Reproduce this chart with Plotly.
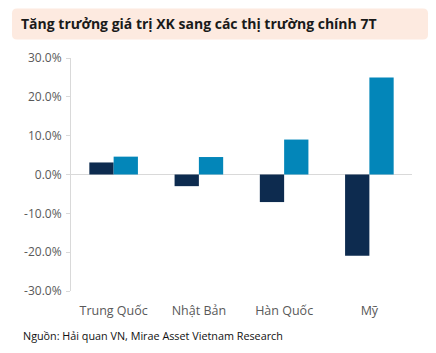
import plotly.graph_objects as go

categories = ["Trung Quốc", "Nhật Bản", "Hàn Quốc", "Mỹ"]
series_a = [3.1, -3.0, -7.1, -20.9]
series_b = [4.6, 4.5, 9.0, 25.0]
tick_vals = [-30, -20, -10, 0, 10, 20, 30]
tick_text = ["-30.0%", "-20.0%", "-10.0%", "0.0%", "10.0%", "20.0%", "30.0%"]
title_text = "Tăng trưởng giá trị XK sang các thị trường chính 7T"
source_text = "Nguồn: Hải quan VN, Mirae Asset Vietnam Research"

W, H = 436, 353
L, R, T, B = 71, 24, 58, 62
pw, ph = W - L - R, H - T - B

def px(x):
    return (x - L) / pw

def py(y):
    return (H - B - y) / ph

fig = go.Figure()
fig.add_trace(go.Bar(x=categories, y=series_a, marker_color="#0d2b4f", marker_line_width=0))
fig.add_trace(go.Bar(x=categories, y=series_b, marker_color="#0386b9", marker_line_width=0))

# rounded title box
x0, x1, y0, y1, r = 12, 428, 8.5, 39.5, 5
path = (f"M {px(x0+r)} {py(y0)} L {px(x1-r)} {py(y0)} Q {px(x1)} {py(y0)} {px(x1)} {py(y0+r)} "
        f"L {px(x1)} {py(y1-r)} Q {px(x1)} {py(y1)} {px(x1-r)} {py(y1)} "
        f"L {px(x0+r)} {py(y1)} Q {px(x0)} {py(y1)} {px(x0)} {py(y1-r)} "
        f"L {px(x0)} {py(y0+r)} Q {px(x0)} {py(y0)} {px(x0+r)} {py(y0)} Z")
fig.add_shape(type="path", path=path, xref="paper", yref="paper",
              fillcolor="#fdeae0", line_width=0, layer="below")

fig.add_annotation(text="<b>" + title_text + "</b>", xref="paper", yref="paper",
                   x=px(19), y=py(24), xanchor="left", yanchor="middle", showarrow=False,
                   font=dict(family="Open Sans", size=14, color="#1a1a1a"))
fig.add_annotation(text=source_text, xref="paper", yref="paper",
                   x=px(21), y=py(335), xanchor="left", yanchor="middle", showarrow=False,
                   font=dict(family="Open Sans", size=10.8, color="#111111"))

fig.update_layout(
    width=W, height=H, margin=dict(l=L, r=R, t=T, b=B),
    paper_bgcolor="white", plot_bgcolor="white",
    barmode="group", bargap=0.43, bargroupgap=0,
    showlegend=False,
    font=dict(family="Open Sans", size=12, color="#595959"),
)
fig.update_yaxes(range=[-30, 30], tickvals=tick_vals, ticktext=tick_text,
                 showgrid=False, showline=True, linecolor="#d9d9d9", linewidth=1,
                 ticks="outside", ticklen=4, tickcolor="#d9d9d9",
                 ticklabelstandoff=2,
                 zeroline=True, zerolinecolor="#d9d9d9", zerolinewidth=1,
                 tickfont=dict(size=12, color="#595959"))
fig.update_xaxes(showgrid=False, showline=False, ticks="", ticklabelstandoff=10,
                 tickfont=dict(size=12.5, color="#595959"))

fig.write_html("out.html")
